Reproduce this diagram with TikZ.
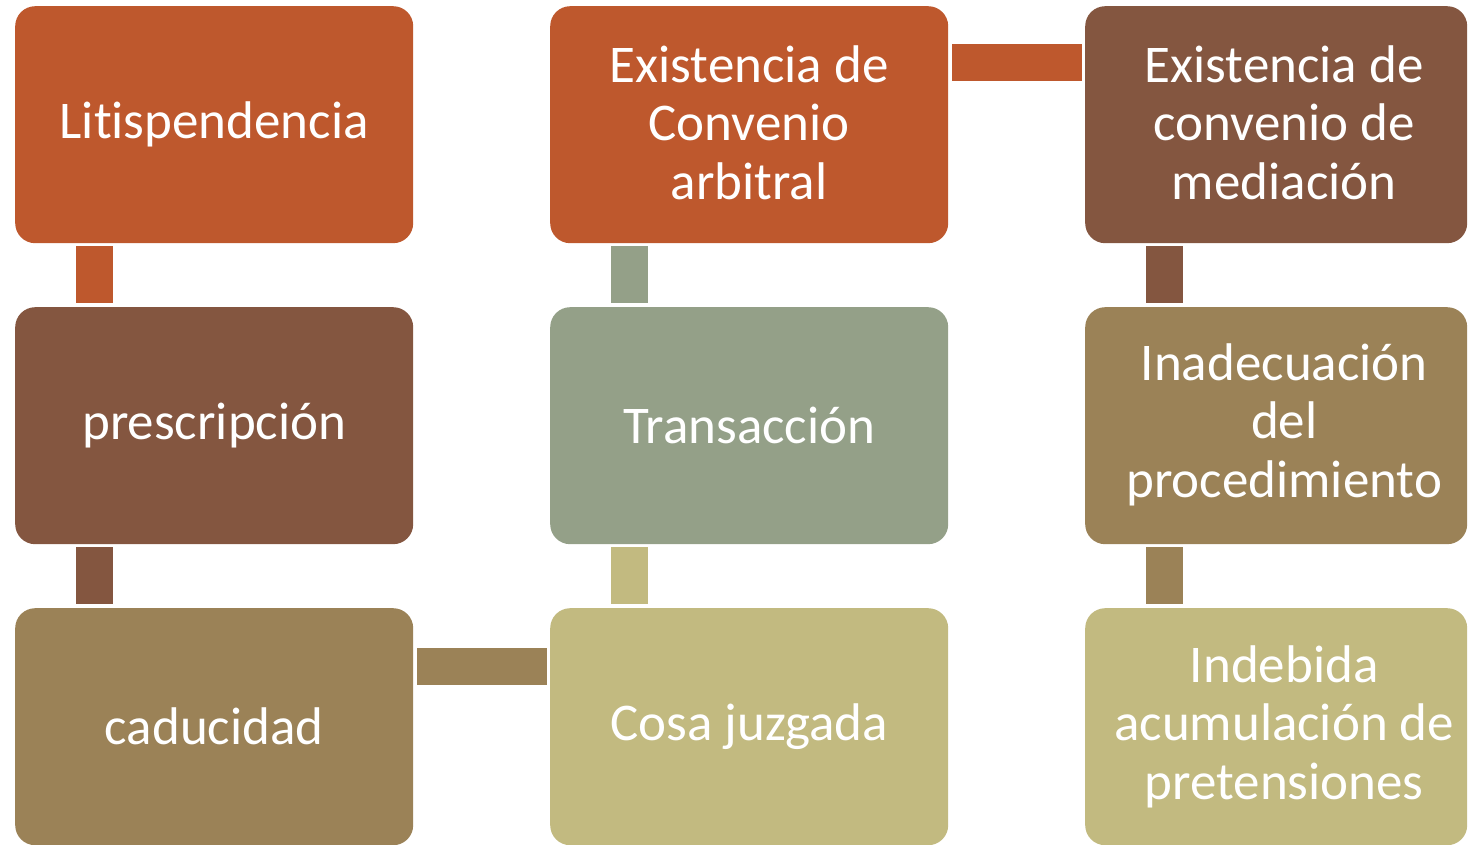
\documentclass[tikz,border=0pt]{standalone}
\usepackage{fontspec}
\setmainfont[Ligatures={NoCommon,NoContextual},Contextuals=NoAlternate]{Carlito}
\usetikzlibrary{calc}
\definecolor{cOrange}{RGB}{190,88,45}
\definecolor{cBrown}{RGB}{132,86,64}
\definecolor{cTan}{RGB}{155,130,87}
\definecolor{cSage}{RGB}{148,160,136}
\definecolor{cKhaki}{RGB}{194,186,128}
\tikzset{
  txt/.style={text=white, align=center, inner sep=0pt,
    font=\fontsize{53}{58.5}\selectfont},
  box/.style={rectangle, rounded corners=20pt, inner sep=0pt, minimum height=237pt,
    anchor=north west, txt},
  wbox/.style={box, minimum width=398pt},
  nbox/.style={box, minimum width=382pt},
  bar/.style={line width=37pt, line cap=butt},
}
\begin{document}
\begin{tikzpicture}[x=1pt,y=-1pt]
\useasboundingbox (0,0) rectangle (1468,845);
% column 1
\node[wbox, fill=cOrange] (lit) at (15,6) {Litispendencia};
\node[wbox, fill=cBrown] (pre) at (15,307) {prescripción};
\node[wbox, fill=cTan] (cad) at (15,608) {caducidad};
% column 2
\node[wbox, fill=cOrange] (arb) at (550,6) {};
\node[wbox, fill=cSage] (tra) at (550,307) {Transacción};
\node[wbox, fill=cKhaki] (cos) at (550,608) {Cosa juzgada};
\node[txt] (arbT) at ($(arb.center)+(0,-2)$) {Existencia de\\Convenio\\arbitral};
% column 3
\node[nbox, fill=cBrown] (med) at (1085,6) {};
\node[nbox, fill=cTan] (ina) at (1085,307) {};
\node[nbox, fill=cKhaki] (ind) at (1085,608) {};
\node[txt] (medT) at ($(med.center)+(8,-2)$) {Existencia de\\convenio de\\mediación};
\node[txt] (inaT) at ($(ina.center)+(8,-1)$) {Inadecuación\\del\\procedimiento};
\node[txt] (indT) at ($(ind.center)+(8,0)$) {Indebida\\acumulación de\\pretensiones};
% vertical connectors
\draw[bar, cOrange] ($(lit.south west)+(79.5,3)$) -- ($(pre.north west)+(79.5,-4)$);
\draw[bar, cBrown] ($(pre.south west)+(79.5,3)$) -- ($(cad.north west)+(79.5,-4)$);
\draw[bar, cSage] ($(arb.south west)+(79.5,3)$) -- ($(tra.north west)+(79.5,-4)$);
\draw[bar, cKhaki] ($(tra.south west)+(79.5,3)$) -- ($(cos.north west)+(79.5,-4)$);
\draw[bar, cBrown] ($(med.south west)+(79.5,3)$) -- ($(ina.north west)+(79.5,-4)$);
\draw[bar, cTan] ($(ina.south west)+(79.5,3)$) -- ($(ind.north west)+(79.5,-4)$);
% horizontal connectors
\draw[bar, cOrange] ($(arb.north east)+(4,56.5)$) -- ($(med.north west)+(-3,56.5)$);
\draw[bar, cTan] ($(cad.north east)+(4,58.5)$) -- ($(cos.north west)+(-3,58.5)$);
\end{tikzpicture}
\end{document}
